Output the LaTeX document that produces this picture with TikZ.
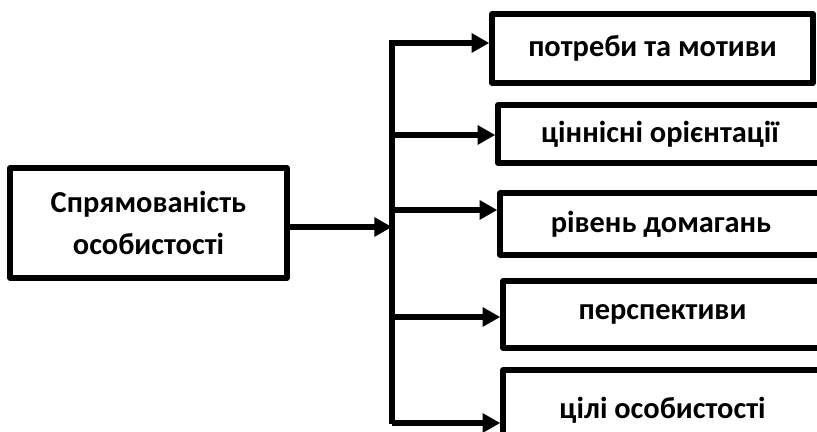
\documentclass[tikz,border=0pt]{standalone}
\usepackage{fontspec}
\setmainfont{Carlito}
\usetikzlibrary{arrows.meta}

\begin{document}
\begin{tikzpicture}[>={Triangle[length=10pt,width=10.5pt]}, line width=3.1pt, line join=round,
  box/.style={draw, line width=3.1pt, font=\bfseries\fontsize{17.3}{24}\selectfont, align=center, inner sep=0pt}]
\useasboundingbox (0,0) rectangle (16.34,8.64);
\node[box, minimum width=5.54cm, minimum height=2.2cm] (spr) at (2.97,4.18) {Спрямованість\\особистості};
\node[box, minimum width=6.42cm, minimum height=1.38cm] (potr) at (13.05,7.67) {потреби та мотиви};
\node[box, minimum width=6.48cm, minimum height=1.16cm] (cinn) at (13.20,5.96) {ціннісні орієнтації};
\node[box, minimum width=6.44cm, minimum height=1.24cm] (riv) at (13.22,4.16) {рівень домагань};
\node[box, minimum width=6.38cm, minimum height=1.34cm] (persp) at (13.25,2.35) {перспективи};
\node[box, minimum width=6.38cm, minimum height=1.60cm] (cili) at (13.25,0.44) {цілі особистості};
\coordinate (bustop) at (7.84,7.84);
\coordinate (busbot) at (7.84,0.16);
\coordinate (bm) at (7.84,4.10);
\coordinate (b1) at (7.84,7.78);
\coordinate (b2) at (7.84,5.94);
\coordinate (b3) at (7.84,4.44);
\coordinate (b4) at (7.84,2.30);
\coordinate (b5) at (7.84,0.18);
\draw (bustop) -- (busbot);
\draw[->] (spr.east |- bm) -- (bm);
\draw[->] (b1) -- (b1 -| potr.west);
\draw[->] (b2) -- (b2 -| cinn.west);
\draw[->] (b3) -- (b3 -| riv.west);
\draw[->] (b4) -- (b4 -| persp.west);
\draw[->] (b5) -- (b5 -| cili.west);
\end{tikzpicture}
\end{document}
